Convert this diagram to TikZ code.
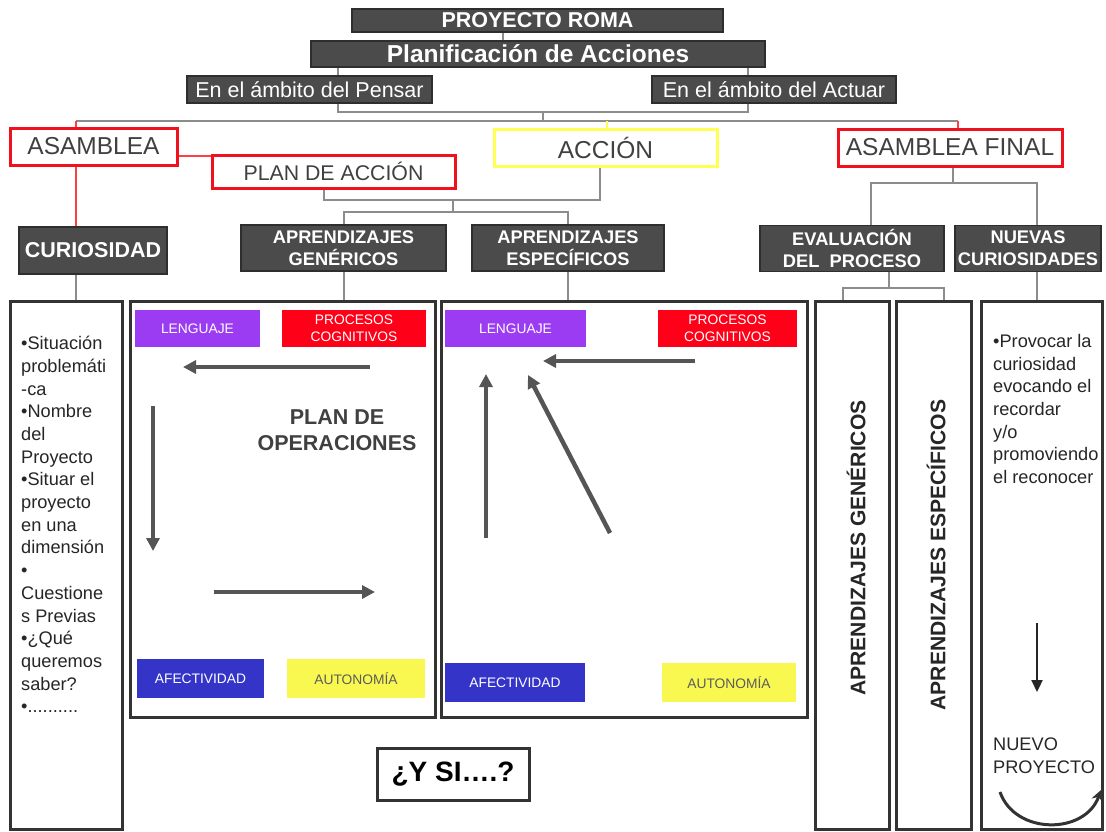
\documentclass[tikz,border=0pt]{standalone}
\usepackage{fontspec}
\setmainfont{Liberation Sans}
\usetikzlibrary{arrows.meta,backgrounds}
\definecolor{boxgray}{HTML}{4B4B4B}
\definecolor{boxline}{HTML}{2E2E2E}
\definecolor{linegray}{HTML}{8C8C8C}
\definecolor{textgray}{HTML}{404040}
\definecolor{roja}{HTML}{F0101E}
\definecolor{amarilla}{HTML}{FFFF55}
\definecolor{violeta}{HTML}{9B3CF2}
\definecolor{rojofill}{HTML}{FF0019}
\definecolor{azul}{HTML}{3434C8}
\definecolor{amarfill}{HTML}{F8F850}
\definecolor{arrowgray}{HTML}{555555}
\definecolor{panelline}{HTML}{333333}

\begin{document}
\begin{tikzpicture}[x=1pt, y=-1pt,
    dark/.style={draw=boxline, line width=1.2pt, fill=boxgray, text=white, inner sep=0pt, align=center},
    learn/.style={dark, minimum height=46pt, font=\bfseries\fontsize{18.3}{22}\selectfont},
    frame/.style={draw=#1, line width=3pt, fill=white, text=textgray, inner sep=0pt, font=\fontsize{24.5}{29}\selectfont},
    panel/.style={draw=panelline, line width=3pt, inner sep=0pt},
    tag/.style={fill=#1, text=white, inner sep=0pt, align=center, font=\fontsize{13.8}{17}\selectfont},
    conn/.style={draw=linegray, line width=2pt},
    redconn/.style={draw=red!75, line width=2pt},
    op/.style={-{Triangle[length=13pt, width=13pt]}, line width=4.5pt, color=arrowgray},
    body/.style={anchor=north west, align=left, inner sep=0pt, text=black!85, font=\fontsize{18.2}{22.7}\selectfont},
    vert/.style={rotate=90, text=black!85, font=\bfseries\fontsize{21.1}{25}\selectfont},
]
\useasboundingbox (0,0) rectangle (1106,831);

\node[dark, minimum width=371pt, minimum height=23pt, font=\bfseries\fontsize{21.5}{25}\selectfont] (proj) at (537.5,20.5) {PROYECTO ROMA};
\node[dark, minimum width=454pt, minimum height=26pt, font=\bfseries\fontsize{24.5}{28}\selectfont] (plan) at (538,54) {Planificación de Acciones};
\node[dark, minimum width=245pt, minimum height=27pt, font=\fontsize{21.5}{25}\selectfont] (pensar) at (309.5,89.5) {En el ámbito del Pensar};
\node[dark, minimum width=244pt, minimum height=27pt, font=\fontsize{21.5}{25}\selectfont] (actuar) at (774,89.5) {En el ámbito del Actuar};

\node[frame=roja, minimum width=167pt, minimum height=37pt] (asamblea) at (93.5,146.5) {ASAMBLEA};
\node[frame=amarilla, minimum width=223pt, minimum height=37pt] (accion) at (605.5,147.5) {ACCIÓN};
\node[frame=roja, minimum width=224pt, minimum height=37pt] (final) at (950,147.5) {ASAMBLEA FINAL};
\node[frame=roja, minimum width=243pt, minimum height=33pt, font=\fontsize{21.3}{25}\selectfont] (planaccion) at (333.5,171.5) {PLAN DE ACCIÓN};

\node[dark, minimum width=148pt, minimum height=47pt, font=\bfseries\fontsize{21.5}{25}\selectfont] (curiosidad) at (93,250.5) {CURIOSIDAD};
\node[learn, minimum width=205pt] (gen) at (343.5,248) {APRENDIZAJES\\GENÉRICOS};
\node[learn, minimum width=192pt] (esp) at (568,248) {APRENDIZAJES\\ESPECÍFICOS};
\node[learn, minimum width=184pt] (eval) at (852,248.5) {EVALUACIÓN\\DEL\ \ PROCESO};
\node[learn, minimum width=146pt] (nuevas) at (1028,248.5) {NUEVAS\\CURIOSIDADES};

\node[panel, minimum width=112pt, minimum height=528pt] (curpanel) at (66,565) {};
\node[panel, minimum width=305pt, minimum height=416pt] (genpanel) at (282.5,509) {};
\node[panel, minimum width=366pt, minimum height=416pt] (esppanel) at (624,509) {};
\node[panel, minimum width=74pt, minimum height=528pt] (evalgen) at (852,565) {};
\node[panel, minimum width=75pt, minimum height=528pt] (evalesp) at (933.5,565) {};
\node[panel, minimum width=121pt, minimum height=528pt] (nuevpanel) at (1041.5,565) {};

\node[tag=violeta, minimum width=125pt, minimum height=37pt] (lenG) at (197.5,328.5) {LENGUAJE};
\node[tag=rojofill, minimum width=144pt, minimum height=37pt] (procG) at (354,328.5) {PROCESOS\\COGNITIVOS};
\node[tag=azul, minimum width=127pt, minimum height=39pt] (afeG) at (200.5,678.5) {AFECTIVIDAD};
\node[tag=amarfill, text=textgray!85, minimum width=138pt, minimum height=39pt] (autG) at (356,678.5) {AUTONOMÍA};
\node[tag=violeta, minimum width=141pt, minimum height=37pt] (lenE) at (515.5,328.5) {LENGUAJE};
\node[tag=rojofill, minimum width=139pt, minimum height=37pt] (procE) at (727.5,328.5) {PROCESOS\\COGNITIVOS};
\node[tag=azul, minimum width=140pt, minimum height=39pt] (afeE) at (515,682.5) {AFECTIVIDAD};
\node[tag=amarfill, text=textgray!85, minimum width=134pt, minimum height=39pt] (autE) at (729,682.5) {AUTONOMÍA};

\node[align=center, text=textgray, font=\bfseries\fontsize{21.5}{26}\selectfont] (operac) at (337,430) {PLAN DE\\OPERACIONES};

\coordinate (g1) at (370,367); \coordinate (g2) at (183,367);
\coordinate (g3) at (153,406); \coordinate (g4) at (153,551);
\coordinate (g5) at (214,592); \coordinate (g6) at (375,592);
\draw[op] (g1) -- (g2);
\draw[op] (g3) -- (g4);
\draw[op] (g5) -- (g6);
\coordinate (e1) at (695,361); \coordinate (e2) at (543,361);
\coordinate (e3) at (486,538); \coordinate (e4) at (486,374);
\coordinate (e5) at (610,533); \coordinate (e6) at (528,375);
\draw[op] (e1) -- (e2);
\draw[op] (e3) -- (e4);
\draw[op] (e5) -- (e6);

\node[body] (curtext) at (21,336) {•Situación\\problemáti\\-ca\\•Nombre\\del\\Proyecto\\•Situar el\\proyecto\\en una\\dimensión\\•\\Cuestione\\s Previas\\•¿Qué\\queremos\\saber?\\•..........};
\node[body] (nuevtext) at (993,334) {•Provocar la\\curiosidad\\evocando el\\recordar\\y/o\\promoviendo\\el reconocer};
\node[body] (nuevo) at (993,738) {NUEVO\\PROYECTO};
\node[vert] (vgen) at (856,548) {APRENDIZAJES GENÉRICOS};
\node[vert] (vesp) at (936,555) {APRENDIZAJES ESPECÍFICOS};

\node[panel, minimum width=152pt, minimum height=52pt, font=\bfseries\fontsize{28}{32}\selectfont] (ysi) at (453,774) {¿Y SI….?};

\coordinate (n1) at (1037,623); \coordinate (n2) at (1037,692);
\draw[-{Triangle[length=12pt, width=11pt]}, line width=2.2pt, color=black!85] (n1) -- (n2);
\coordinate (cv1) at (1000,792); \coordinate (cv2) at (1101,790);
\draw[-{Stealth[length=11pt, width=12pt]}, line width=3pt, color=black!80] (cv1) .. controls (1015,835) and (1085,835) .. (cv2);

\begin{scope}[on background layer]
\fill[white] (0,0) rectangle (1106,831);
\coordinate (xa) at (503,0);
\coordinate (xb) at (338,112); \coordinate (xc) at (748,112);
\coordinate (xd) at (543,112); \coordinate (xe) at (543,121);
\coordinate (busL) at (76,121); \coordinate (busR) at (958,121); \coordinate (busA) at (607,121);
\coordinate (ya) at (0,156);
\coordinate (pa1) at (324,200); \coordinate (pa2) at (600,200);
\coordinate (pa3) at (453,200); \coordinate (pa4) at (453,212);
\coordinate (fa) at (953,183); \coordinate (fb) at (871,183); \coordinate (fc) at (1037,183);
\coordinate (ea) at (889,288); \coordinate (eb) at (843,288); \coordinate (ec) at (944,288);
\draw[conn] (xa |- proj.south) -- (xa |- plan.north);
\draw[conn] (xb |- plan.south) -- (xb) -- (xc) -- (xc |- plan.south);
\draw[conn] (xd) -- (xe);
\draw[conn] (busL) -- (busR);
\draw[redconn] (busL) -- (busL |- asamblea.north);
\draw[draw=amarilla, line width=2pt] (busA) -- (busA |- accion.north);
\draw[redconn] (busR) -- (busR |- final.north);
\draw[redconn] (busL |- asamblea.south) -- (busL |- curiosidad.north);
\draw[redconn] (asamblea.east |- ya) -- (planaccion.west |- ya);
\draw[conn] (pa1 |- planaccion.south) -- (pa1) -- (pa2) -- (pa2 |- accion.south);
\draw[conn] (pa3) -- (pa4);
\draw[conn] (gen.north) |- (pa4) -| (esp.north);
\draw[conn] (fa |- final.south) -- (fa);
\draw[conn] (fb |- eval.north) -- (fb) -- (fc) -- (fc |- nuevas.north);
\draw[conn] (ea |- eval.south) -- (ea);
\draw[conn] (eb |- evalgen.north) -- (eb) -- (ec) -- (ec |- evalesp.north);
\draw[conn] (fc |- nuevas.south) -- (fc |- nuevpanel.north);
\draw[conn] (busL |- curiosidad.south) -- (busL |- curpanel.north);
\draw[conn] (gen.south) -- (gen.south |- genpanel.north);
\draw[conn] (esp.south) -- (esp.south |- esppanel.north);
\end{scope}
\end{tikzpicture}
\end{document}
